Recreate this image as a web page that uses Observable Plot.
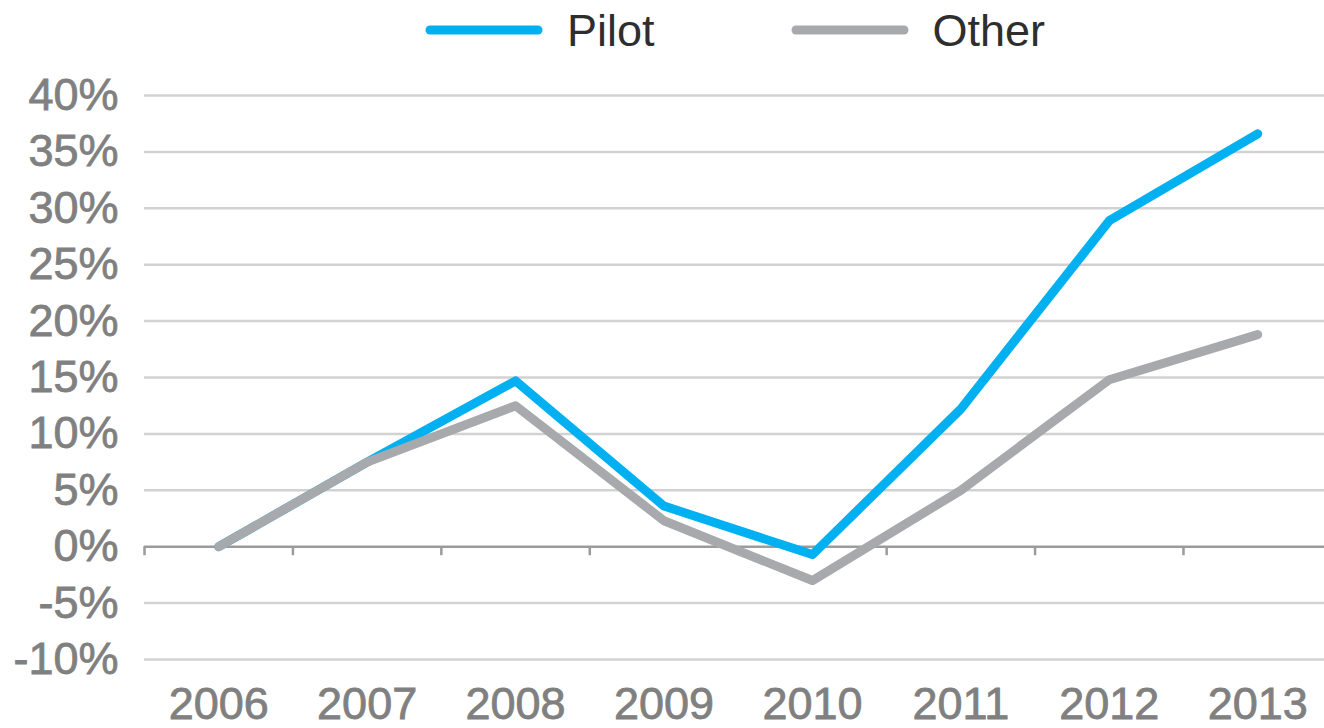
<!DOCTYPE html>
<html>
<head>
<meta charset="utf-8">
<script src="https://cdn.jsdelivr.net/npm/d3@7"></script>
<script src="https://cdn.jsdelivr.net/npm/@observablehq/plot@0.6"></script>
<style>
  html, body { margin: 0; padding: 0; background: #fff; overflow: hidden; }
  body { font-family: "Liberation Sans", Arial, Helvetica, sans-serif; }
  #legend { height: 60px; display: flex; align-items: center; padding-left: 425px; box-sizing: border-box; }
  .item { display: flex; align-items: center; }
  .item span { font-size: 45px; color: #2e2e2e; margin-left: 24px; line-height: 1; }
  .item + .item { margin-left: 136px; }
  #chart svg { display: block; }
  #chart svg g[aria-label$="tick label"] text { stroke: #808080; stroke-width: 0.8px; }
</style>
</head>
<body>
<div id="legend"></div>
<div id="chart"></div>
<script>
const years = [2006, 2007, 2008, 2009, 2010, 2011, 2012, 2013];
const pilot = [0, 7.5, 14.7, 3.6, -0.7, 12.2, 28.9, 36.6];
const other = [0, 7.5, 12.5, 2.3, -3.0, 5.0, 14.8, 18.8];
const yTicks = [-10, -5, 0, 5, 10, 15, 20, 25, 30, 35, 40];
const seriesNames = ["Pilot", "Other"];
const seriesColors = ["#00B0F0", "#A7A9AC"];

const rows = [];
years.forEach((yr, i) => {
  rows.push({year: yr, value: pilot[i], series: "Pilot"});
  rows.push({year: yr, value: other[i], series: "Other"});
});
// tick marks sit at the boundaries between year bands
const boundaries = years.map(y => y - 0.5);

// legend
const legend = d3.select("#legend");
seriesNames.forEach((name, i) => {
  const it = legend.append("div").attr("class", "item");
  const s = it.append("svg").attr("width", 118).attr("height", 14);
  s.append("line").attr("x1", 5).attr("x2", 113).attr("y1", 7).attr("y2", 7)
    .attr("stroke", seriesColors[i]).attr("stroke-width", 9).attr("stroke-linecap", "round");
  it.append("span").text(name);
});

const chart = Plot.plot({
  width: 1324,
  height: 668,
  marginLeft: 144,
  marginRight: 0,
  marginTop: 35,
  marginBottom: 69,
  x: {domain: [2005.5, 2013.45]},
  y: {domain: [-10, 40]},
  style: {fontFamily: "'Liberation Sans', Arial, sans-serif", background: "white", color: "#808080", overflow: "visible"},
  marks: [
    Plot.ruleY(yTicks.filter(d => d !== 0), {stroke: "#d2d2d2", strokeWidth: 2.5}),
    Plot.ruleY([0], {stroke: "#9b9b9b", strokeWidth: 2.5}),
    Plot.ruleX(boundaries, {x: d => d, y1: 0, y2: 0, insetBottom: -9, stroke: "#9b9b9b", strokeWidth: 2.5}),
    Plot.axisY({ticks: yTicks, tickSize: 0, tickPadding: 26, tickFormat: d => d + "%", fontSize: 45, fill: "#808080", label: null}),
    Plot.axisX({ticks: years, tickSize: 0, tickPadding: 28, tickFormat: d => String(d), fontSize: 45, fill: "#808080", label: null}),
    Plot.line(rows.filter(d => d.series === "Pilot"), {x: "year", y: "value", stroke: seriesColors[0], strokeWidth: 9, strokeLinecap: "round", strokeLinejoin: "round"}),
    Plot.line(rows.filter(d => d.series === "Other"), {x: "year", y: "value", stroke: seriesColors[1], strokeWidth: 9, strokeLinecap: "round", strokeLinejoin: "round"})
  ]
});
document.getElementById("chart").append(chart);
</script>
</body>
</html>
